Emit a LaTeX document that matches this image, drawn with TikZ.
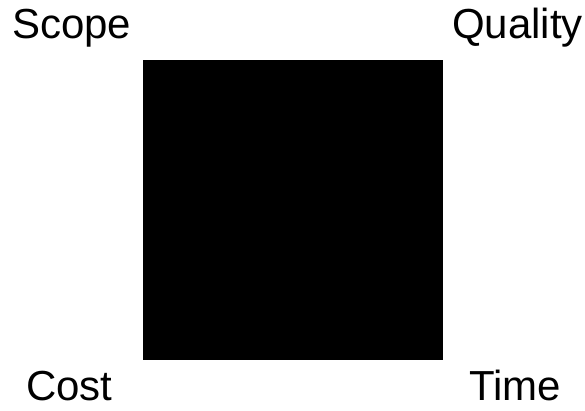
\documentclass[tikz,border=0pt]{standalone}
\usepackage{fontspec}
\setmainfont{Liberation Sans}
\begin{document}
\begin{tikzpicture}[x=1pt,y=-1pt,
  lbl/.style={inner sep=0pt,font=\fontsize{42}{50}\selectfont}]
\useasboundingbox (0,0) rectangle (585,410);
\fill[black] (143,60) rectangle (443,360);
\node[lbl,anchor=base west] (scope) at (12,38) {Scope};
\node[lbl,anchor=base east] (quality) at (583,38) {Quality};
\node[lbl,anchor=base west] (cost) at (26,400) {Cost};
\node[lbl,anchor=base east] (time) at (561,400) {Time};
\end{tikzpicture}
\end{document}
